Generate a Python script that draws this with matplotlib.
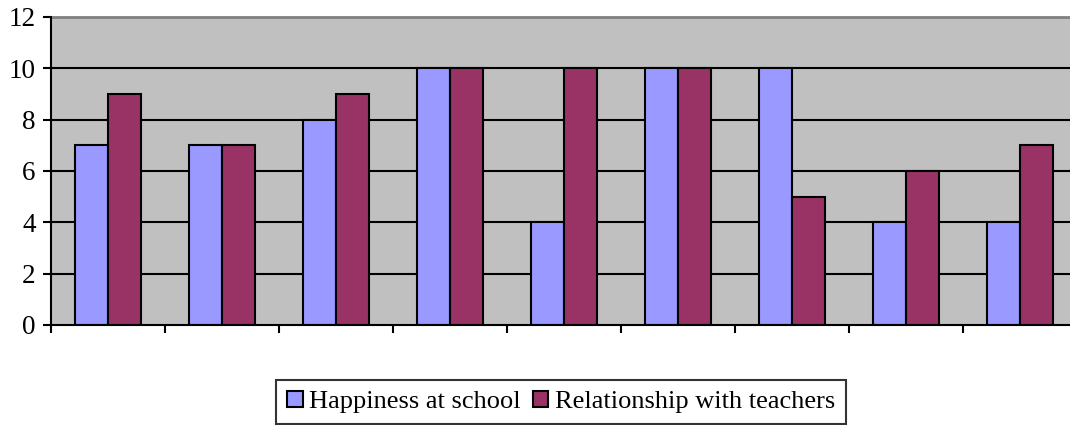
import matplotlib
matplotlib.use("Agg")
import matplotlib.pyplot as plt
import numpy as np
from matplotlib.patches import Patch

happiness = [7, 7, 8, 10, 4, 10, 10, 4, 4]
teachers = [9, 7, 9, 10, 10, 10, 5, 6, 7]
series_names = ["Happiness at school", "Relationship with teachers"]
colors = ["#9999FF", "#993366"]

plt.rcParams['font.family'] = ['Liberation Serif', 'DejaVu Serif']

W, H = 1070, 425
fig = plt.figure(figsize=(W / 100, H / 100), dpi=100)
# plot area: left 51px, top 17px, bottom 325px, category width ~114px (chart is cut on the right)
ax = fig.add_axes([51 / W, 1 - 325 / H, 9 * 114 / W, (325 - 17) / H])
ax.set_facecolor("#C0C0C0")

n = len(happiness)
x = np.arange(n)
bw = 1 / 3.5
ax.bar(x + 0.75 / 3.5, happiness, width=bw, align='edge', color=colors[0],
       edgecolor='black', linewidth=1.5, zorder=3)
ax.bar(x + 1.75 / 3.5, teachers, width=bw, align='edge', color=colors[1],
       edgecolor='black', linewidth=1.5, zorder=3)

ax.set_xlim(0, n)
ax.set_ylim(0, 12)
ax.set_yticks(range(0, 13, 2))
ax.set_xticks(range(0, n + 1))
ax.set_xticklabels([])
for y in range(2, 12, 2):
    ax.axhline(y, color='black', linewidth=1.5, zorder=1)

ax.spines['top'].set_color('#808080')
ax.spines['top'].set_linewidth(2)
ax.spines['right'].set_visible(False)
for s in ['left', 'bottom']:
    ax.spines[s].set_linewidth(1.5)
    ax.spines[s].set_zorder(4)
ax.tick_params(axis='both', direction='out', length=6, width=1.5, colors='black')
ax.tick_params(axis='y', labelsize=19.5, pad=5)

handles = [Patch(facecolor=c, edgecolor='black', linewidth=1.5) for c in colors]
leg = fig.legend(handles, series_names, loc='center',
                 bbox_to_anchor=(561 / W, 1 - 402 / H), ncol=2, fontsize=19,
                 frameon=True, fancybox=False, handlelength=0.6, handleheight=0.6,
                 handletextpad=0.25, columnspacing=0.45, borderpad=0.4,
                 borderaxespad=0)
leg.get_frame().set_edgecolor('black')
leg.get_frame().set_linewidth(1.5)

fig.savefig("out.png", dpi=100)
